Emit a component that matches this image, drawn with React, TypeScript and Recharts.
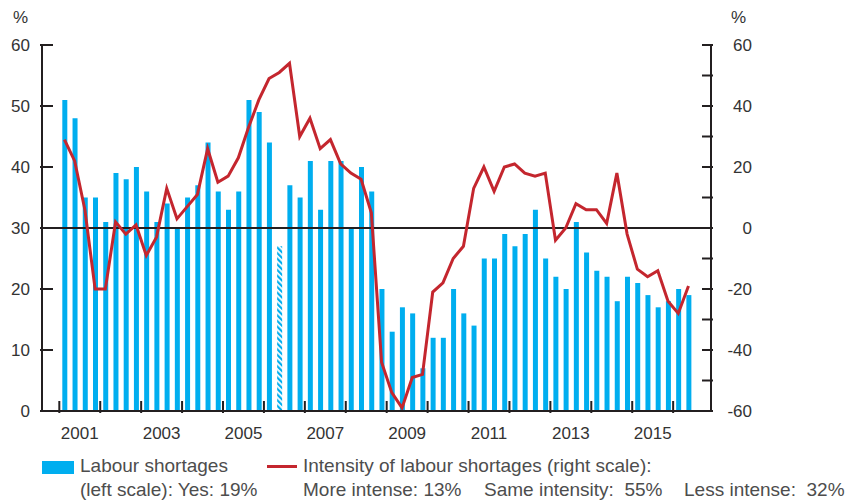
import React from "react";
import { ComposedChart, Bar, Line, XAxis, YAxis, ReferenceLine, Cell } from "recharts";

// quarterly survey, 2001 Q1 – 2016 Q2
const FIRST_YEAR = 2001;
const shortages = [
  51, 48, 35, 35, 31, 39, 38, 40, 36, 31, 34, 30, 35, 37, 44, 36, 33, 36, 51, 49,
  44, 27, 37, 35, 41, 33, 41, 41, 30, 40, 36, 20, 13, 17, 16, 7, 12, 12, 20, 16,
  14, 25, 25, 29, 27, 29, 33, 25, 22, 20, 31, 26, 23, 22, 18, 22, 21, 19, 17, 18,
  20, 19,
];
const intensity = [
  29, 22, 6, -20, -20, 2, -2, 1, -9, -3, 13, 3, 7, 11, 26, 15, 17, 23, 33, 42,
  49, 51, 54, 30, 36, 26, 29, 21, 18, 16, 5, -44, -54, -59, -49, -48, -21, -18, -10, -6,
  13, 20, 12, 20, 21, 18, 17, 18, -4, 0, 8, 6, 6, 1.5, 18, -2, -13.5, -16, -14, -24,
  -28, -19,
];
// the 2006 Q2 bar is drawn hatched
const HATCHED = 21;

const leftTicks = [0, 10, 20, 30, 40, 50, 60];
const rightTicks = [-60, -50, -40, -30, -20, -10, 0, 10, 20, 30, 40, 50, 60];
const rightLabelled = [-60, -40, -20, 0, 20, 40, 60];
const yearTicks = [2001, 2002, 2003, 2004, 2005, 2006, 2007, 2008, 2009, 2010, 2011, 2012, 2013, 2014, 2015, 2016];
const yearLabels = ["2001", "2003", "2005", "2007", "2009", "2011", "2013", "2015"];

const data = shortages.map((v, i) => ({
  t: FIRST_YEAR + (i + 0.5) / 4,
  shortages: v,
  intensity: intensity[i],
}));

const xTicks = [...yearTicks, ...yearLabels.map((y) => Number(y) + 0.5)].sort((a, b) => a - b);

const BLUE = "#00AEEF";
const RED = "#C4262E";
const AXIS = "#231F20";
const TEXT = "#333333";
const FONT = "'Liberation Sans', Arial, sans-serif";

const LeftTick = ({ x, y, payload }: any) => (
  <g>
    <line x1={x} x2={x + 13} y1={y} y2={y} stroke={AXIS} strokeWidth={2} />
    <text x={x - 10} y={y} dy={6} textAnchor="end" fill={TEXT} fontSize={17} fontFamily={FONT}>
      {payload.value}
    </text>
  </g>
);

const RightTick = ({ x, y, payload }: any) => (
  <g>
    <line x1={x - 11} x2={x} y1={y} y2={y} stroke={AXIS} strokeWidth={2} />
    {rightLabelled.includes(payload.value) && (
      <text x={x + 39} y={y} dy={6} textAnchor="end" fill={TEXT} fontSize={17} fontFamily={FONT}>
        {payload.value}
      </text>
    )}
  </g>
);

const YearTick = ({ x, y, payload }: any) => {
  const v = payload.value;
  if (Number.isInteger(v)) {
    return <line x1={x} x2={x} y1={y - 12} y2={y} stroke={AXIS} strokeWidth={2} />;
  }
  return (
    <text x={x} y={y + 26} textAnchor="middle" fill={TEXT} fontSize={17} fontFamily={FONT}>
      {String(Math.floor(v))}
    </text>
  );
};

export default function App() {
  return (
    <div style={{ position: "absolute", left: 0, top: 0, width: 846, height: 502, background: "#fff", fontFamily: FONT }}>
      <ComposedChart width={846} height={502} data={data} margin={{ top: 45, right: 75, bottom: 61, left: 0 }}>
        <defs>
          <pattern id="hatch" width="4" height="4" patternUnits="userSpaceOnUse" patternTransform="rotate(-45)">
            <rect width="4" height="4" fill="#fff" />
            <rect width="2.2" height="4" fill={BLUE} />
          </pattern>
        </defs>
        <XAxis
          dataKey="t"
          type="number"
          domain={[2000.577, 2016.925]}
          ticks={xTicks}
          interval={0}
          height={30}
          tickSize={0}
          tickLine={false}
          axisLine={{ stroke: AXIS, strokeWidth: 2 }}
          tick={<YearTick />}
        />
        <YAxis
          yAxisId="left"
          orientation="left"
          domain={[0, 60]}
          ticks={leftTicks}
          interval={0}
          width={42}
          tickSize={0}
          tickLine={false}
          axisLine={{ stroke: AXIS, strokeWidth: 2 }}
          tick={<LeftTick />}
        />
        <YAxis
          yAxisId="right"
          orientation="right"
          domain={[-60, 60]}
          ticks={rightTicks}
          interval={0}
          width={60}
          tickSize={0}
          tickLine={false}
          axisLine={{ stroke: AXIS, strokeWidth: 2 }}
          tick={<RightTick />}
        />
        <Bar yAxisId="left" dataKey="shortages" fill={BLUE} barSize={5} isAnimationActive={false}>
          {data.map((_, i) => (
            <Cell key={i} fill={i === HATCHED ? "url(#hatch)" : BLUE} />
          ))}
        </Bar>
        <ReferenceLine yAxisId="right" y={0} stroke={AXIS} strokeWidth={2} />
        <Line
          yAxisId="right"
          dataKey="intensity"
          type="linear"
          stroke={RED}
          strokeWidth={3}
          dot={false}
          isAnimationActive={false}
        />
      </ComposedChart>

      <div style={{ position: "absolute", left: 13, top: 8, fontSize: 17, color: TEXT }}>%</div>
      <div style={{ position: "absolute", left: 731, top: 8, fontSize: 17, color: TEXT }}>%</div>

      <div style={{ position: "absolute", left: 42, top: 461, width: 32, height: 13, background: BLUE }} />
      <div style={{ position: "absolute", left: 80, top: 454, fontSize: 19, lineHeight: "24px", color: "#4D4D4D", whiteSpace: "nowrap" }}>
        Labour shortages
        <br />
        (left scale): Yes: 19%
      </div>
      <div style={{ position: "absolute", left: 267, top: 465, width: 30, height: 3, background: RED }} />
      <div style={{ position: "absolute", left: 303, top: 454, fontSize: 19, lineHeight: "24px", color: "#4D4D4D", whiteSpace: "nowrap" }}>
        Intensity of labour shortages (right scale):
      </div>
      <div style={{ position: "absolute", left: 303, top: 478, fontSize: 19, lineHeight: "24px", color: "#4D4D4D", whiteSpace: "nowrap" }}>
        More intense: 13%
      </div>
      <div style={{ position: "absolute", left: 484, top: 478, fontSize: 19, lineHeight: "24px", color: "#4D4D4D", whiteSpace: "nowrap" }}>
        Same intensity:&nbsp; 55%
      </div>
      <div style={{ position: "absolute", left: 684, top: 478, fontSize: 19, lineHeight: "24px", color: "#4D4D4D", whiteSpace: "nowrap" }}>
        Less intense:&nbsp; 32%
      </div>
    </div>
  );
}
